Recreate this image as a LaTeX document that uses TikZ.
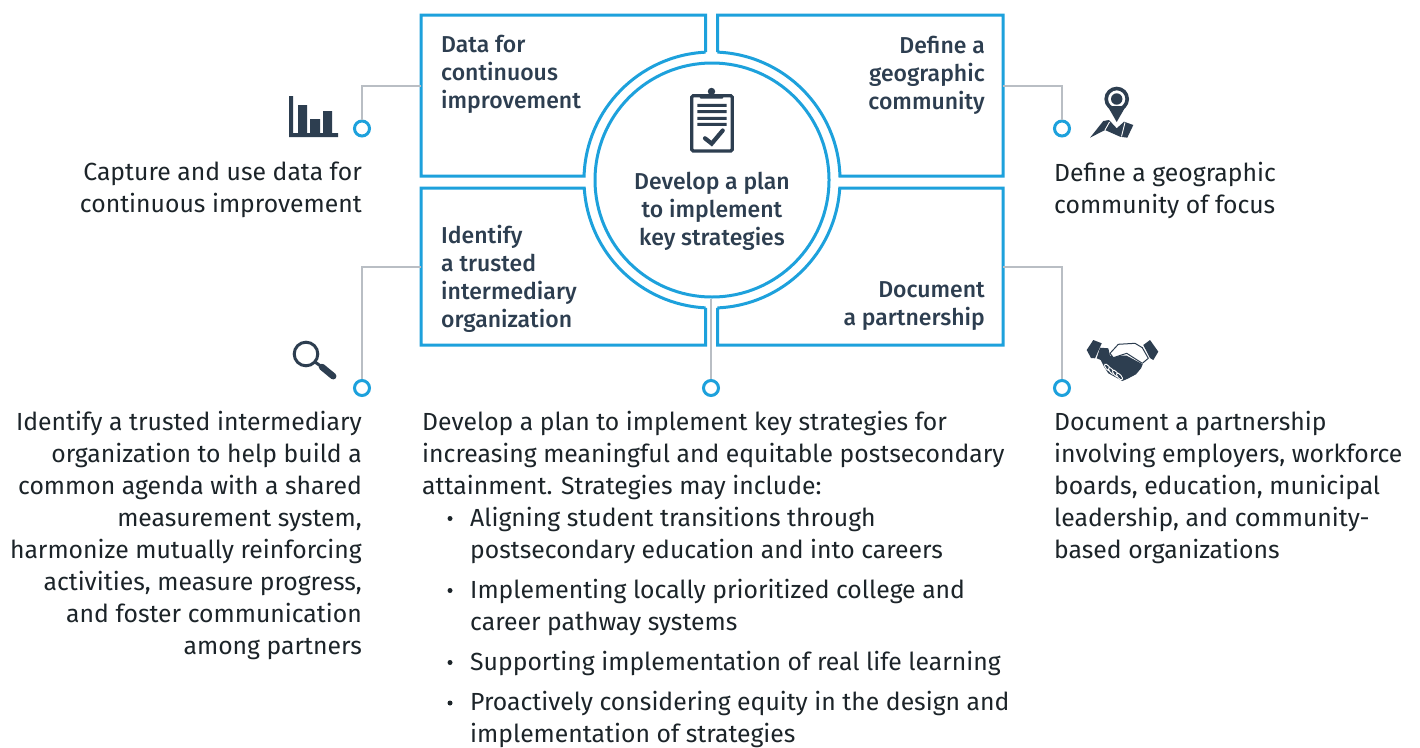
\documentclass[tikz,border=0pt]{standalone}
\usepackage{fontspec}
\setmainfont{Fira Sans}
\newfontfamily\boxfont{Fira Sans Medium}
\definecolor{ink}{HTML}{2D3E50}
\definecolor{body}{HTML}{1C2429}
\definecolor{sky}{HTML}{1DA1DC}
\definecolor{wire}{HTML}{B9BEC4}
\tikzset{
 boxline/.style={draw=sky,line width=3pt,line join=miter},
 wireline/.style={draw=wire,line width=1.6pt},
 dot/.style={circle,draw=sky,line width=3pt,fill=white,minimum size=15pt,inner sep=0pt},
 bodytext/.style={inner sep=0pt,text=body,font=\fontsize{24.75}{32}\selectfont},
 boxtext/.style={inner sep=0pt,text=ink,font=\boxfont\fontsize{23}{28}\selectfont},
 icon/.style={fill=ink,draw=none},
}
\begin{document}
\begin{tikzpicture}[x=1pt,y=1pt,yscale=-1]
\useasboundingbox (0,0) rectangle (1420,747);
\fill[white] (0,0) rectangle (1420,747);
% boxes
\draw[boxline] (705.5,52.17) -- (705.5,15) -- (421,15) -- (421,176) -- (584.06,176) arc[start angle=181.79,end angle=267.09,radius=128];
\draw[boxline] (717.5,52.12) -- (717.5,15) -- (1003,15) -- (1003,176) -- (839.94,176) arc[start angle=-1.79,end angle=-87.54,radius=128];
\draw[boxline] (705.5,307.83) -- (705.5,345) -- (421,345) -- (421,188) -- (584.25,188) arc[start angle=176.42,end angle=92.91,radius=128];
\draw[boxline] (717.5,307.88) -- (717.5,345) -- (1003,345) -- (1003,188) -- (839.75,188) arc[start angle=3.58,end angle=87.54,radius=128];
\node[circle,draw=sky,line width=3pt,fill=white,minimum size=234pt,inner sep=0pt] (plan) at (712,180) {};
\node[boxtext,align=center,anchor=north] (plant) at (712,172) {Develop a plan\\to implement\\key strategies};
\node[boxtext,align=left,anchor=north west] (ta) at (441,35) {Data for\\continuous\\improvement};
\node[boxtext,align=right,anchor=north east] (tb) at (985,36) {Define a\\geographic\\community};
\node[boxtext,align=left,anchor=north west] (tc) at (441,225) {Identify\\a trusted\\intermediary\\organization};
\node[boxtext,align=right,anchor=north east] (td) at (985,281.5) {Document\\a partnership};
% connector ports and dots
\coordinate (pa) at (421,86); \coordinate (pb) at (1003,86); \coordinate (pc) at (421,267); \coordinate (pd) at (1003,267);
\node[dot] (da) at (362,128.5) {};
\node[dot] (db) at (1062,128.5) {};
\node[dot] (dc) at (362,388) {};
\node[dot] (dd) at (1062,388) {};
\node[dot] (de) at (711,388) {};
\draw[wireline] (pa) -| (da);
\draw[wireline] (pb) -| (db);
\draw[wireline] (pc) -| (dc);
\draw[wireline] (pd) -| (dd);
\draw[wireline] (plan.south -| de) -- (de);
% body text
\node[bodytext,align=right,anchor=north east] (xa) at (362,162) {Capture and use data for\\continuous improvement};
\node[bodytext,align=left,anchor=north west] (xb) at (1054,162) {Define a geographic\\community of focus};
\node[bodytext,align=right,anchor=north east] (xc) at (362,411) {Identify a trusted intermediary\\organization to help build a\\common agenda with a shared\\measurement system,\\harmonize mutually reinforcing\\activities, measure progress,\\and foster communication\\among partners};
\node[bodytext,align=left,anchor=north west] (xd) at (1054,411) {Document a partnership\\involving employers, workforce\\boards, education, municipal\\leadership, and community-\\based organizations};
\node[bodytext,align=left,anchor=north west] (xe) at (422,411) {Develop a plan to implement key strategies for\\increasing meaningful and equitable postsecondary\\attainment. Strategies may include:};
\node[bodytext,align=left,anchor=north west] (b1) at (470,507) {Aligning student transitions through\\postsecondary education and into careers};
\node[bodytext,align=left,anchor=north west] (b2) at (470,579) {Implementing locally prioritized college and\\career pathway systems};
\node[bodytext,align=left,anchor=north west] (b3) at (470,651) {Supporting implementation of real life learning};
\node[bodytext,align=left,anchor=north west] (b4) at (470,691) {Proactively considering equity in the design and\\implementation of strategies};
\foreach \y in {518.5,590.5,662.5,703}{\fill[body] (450,\y) circle (2.5);}
% bars icon
\fill[icon] (289,96) rectangle (293,137) (289,133) rectangle (338,137) (298,105) rectangle (307,137) (310,119) rectangle (320,137) (323,111) rectangle (332,137);
% clipboard icon
\draw[ink,line width=3.3pt,rounded corners=1.5pt] (691.7,95.7) rectangle (732.3,151);
\fill[icon,rounded corners=1.5pt] (701,94) -- (722,94) -- (724,98.5) -- (699,98.5) -- cycle;
\fill[icon] (711.5,91.5) circle (3.7);
\fill[icon] (697.3,103.8) rectangle (726.7,106.8) (697.3,110.2) rectangle (726.7,113.2) (697.3,116.8) rectangle (726.7,119.8) (697.3,122.8) rectangle (726.7,125.8);
\draw[ink,line width=4.2pt,line cap=round] (705,138.3) -- (711.7,143.6) -- (722.7,130.5);
% pin icon
\draw[ink,line width=3.6pt] (1116.7,99) circle (10.5);
\fill[icon] (1116.7,99) circle (5.7);
\fill[icon] (1107.5,106) -- (1116.7,122) -- (1125.9,106) -- cycle;
\fill[icon] (1090,137.7) -- (1103.3,121) -- (1109,120) -- (1116.7,128.3) -- (1124,121.7) -- (1133.3,125) -- (1127.3,137.7) -- (1120,136.7) -- (1105,130) -- cycle;
\draw[white,line width=.9pt] (1105,130) -- (1109.5,122) (1121.5,136.5) -- (1125,122.5);
% magnifier icon
\draw[ink,line width=3pt] (306,354) circle (11.8);
\draw[ink,line width=3pt] (315,362) -- (322,367);
\draw[ink,line width=6.5pt,line cap=round] (322,367) -- (333.2,376.2);
% handshake icon
\fill[icon] (1086.7,350) -- (1093.3,340) -- (1101.7,343.3) -- (1095,358.3) -- (1091,358) -- cycle;
\fill[icon] (1143.3,345) -- (1150,340) -- (1158.3,351.7) -- (1153.3,360) -- (1150,358) -- cycle;
\fill[icon] (1100,347.7) -- (1108.3,348.3) -- (1110,355.7) -- (1126.7,355.7) -- (1142.7,364.3) -- (1141,368.3) -- (1136,374.3) -- (1127.7,378.7) -- (1122.3,381) -- (1118.3,378.7) -- (1108.3,373.3) -- (1104,366.7) -- (1100.7,360) -- (1096.7,358.3) -- cycle;
\draw[ink,fill=white,line width=1pt,line join=round] (1110,353.3) -- (1118.3,344.3) -- (1135,343.3) -- (1142.3,347.7) -- (1148.3,358.3) -- (1142.3,363.3) -- (1126.7,353.3) -- (1113.3,357.7) -- cycle;
\foreach \cx/\cy in {1107.5/367.5,1111.5/371,1115.5/373.5,1119.5/376.5}{\draw[white,line width=.9pt,fill=ink,rotate around={50:(\cx,\cy)}] (\cx,\cy) ellipse (4.2 and 1.8);}
\end{tikzpicture}
\end{document}
